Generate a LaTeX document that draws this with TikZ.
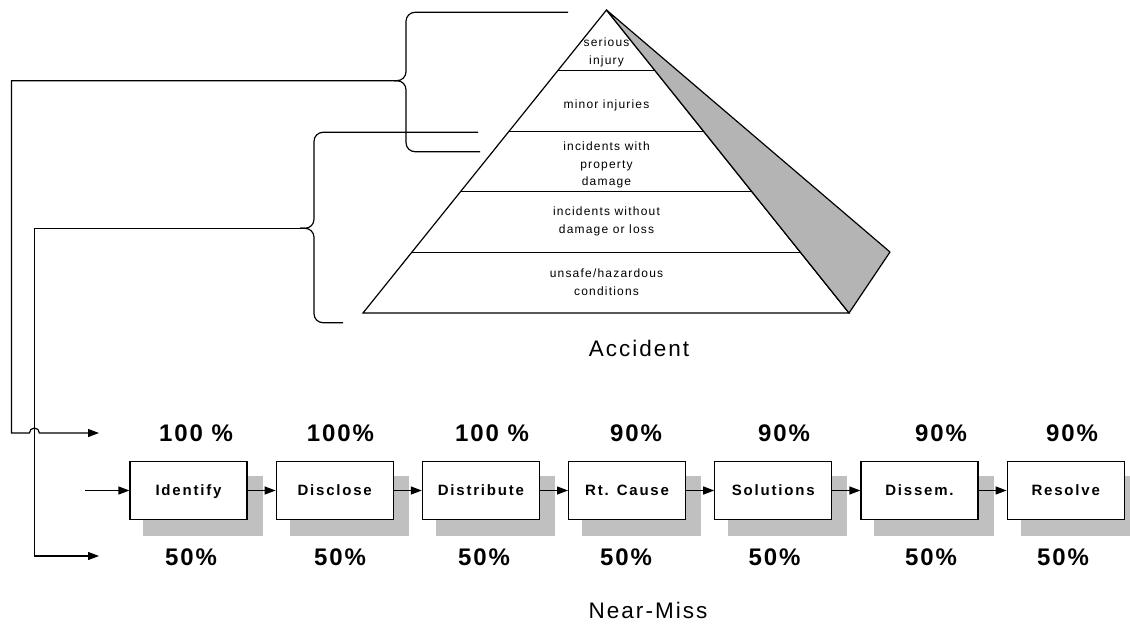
\documentclass[tikz,border=0pt]{standalone}
\usepackage{fontspec}
\setmainfont{Liberation Sans}
\newfontfamily\pyrfont[LetterSpace=10]{Liberation Sans}
\newfontfamily\boxfont[LetterSpace=12]{Liberation Sans}
\newfontfamily\pctfont[LetterSpace=8]{Liberation Sans}
\newfontfamily\capfont[LetterSpace=9]{Liberation Sans}
\usetikzlibrary{arrows.meta,calc}
\pgfdeclarelayer{bg}
\pgfsetlayers{bg,main}
\definecolor{pyrgray}{RGB}{180,180,180}
\definecolor{boxshadow}{RGB}{192,192,192}
\tikzset{
  ln/.style={line width=1.2pt},
  arr/.style={line width=1.2pt,-{Triangle[length=11pt,width=8pt]}},
  brace/.style={line width=1.2pt,rounded corners=9pt},
  stagebox/.style={draw,line width=1.2pt,fill=white,minimum width=117pt,minimum height=57.6pt,inner sep=0pt,
    text height=10.7pt,text depth=0pt,font=\boxfont\fontsize{15}{18}\selectfont\bfseries},
  pct/.style={inner sep=0pt,text height=17.2pt,text depth=0pt,font=\pctfont\fontsize{24}{28}\selectfont\bfseries},
  layer/.style={align=center,inner sep=0pt,font=\pyrfont\fontsize{12}{18}\selectfont},
  caption/.style={inner sep=0pt,font=\capfont\fontsize{22.5}{26}\selectfont},
}
\begin{document}
\begin{tikzpicture}[x=1pt,y=-1pt]
\useasboundingbox (0,0) rectangle (1130,627);

% pyramid
\coordinate (apex) at (606.5,10);
\coordinate (bl) at (363,313);
\coordinate (br) at (849,313);
\coordinate (gt) at (890,252);
\draw[ln,fill=white] (apex) -- (bl) -- (br) -- cycle;
\filldraw[ln,fill=pyrgray,line join=round] (apex) -- (gt) -- (br) -- cycle;
\foreach \t in {0.2,0.4,0.6,0.8}
  \draw[ln] ($(apex)!\t!(bl)$) -- ($(apex)!\t!(br)$);

\node[layer] (l1) at (606.5,52) {serious\\injury};
\node[layer] (l2) at (606.5,105) {minor injuries};
\node[layer,font=\pyrfont\fontsize{12}{17.7}\selectfont] (l3) at (606.5,165) {incidents with\\property\\damage};
\node[layer] (l4) at (606.5,221) {incidents without\\damage or loss};
\node[layer] (l5) at (606.5,282.5) {unsafe/hazardous\\conditions};

\node[caption] (acc) at (639,348) {Accident};
\node[caption] (nm) at (648,610) {Near-Miss};

% braces
\coordinate (ubTop) at (568,12.3);
\coordinate (ubBot) at (480,151.7);
\coordinate (ubTip) at (394,80.7);
\draw[brace] (ubTop) -- (406,12.3) -- (406,80.7) -- (ubTip);
\draw[brace] (ubTip) -- (406,80.7) -- (406,151.7) -- (ubBot);

\coordinate (lbTop) at (478,132.3);
\coordinate (lbBot) at (343,322.7);
\coordinate (lbTip) at (300,228.3);
\draw[brace] (lbTop) -- (314,132.3) -- (314,228.3) -- (lbTip);
\draw[brace] (lbTip) -- (314,228.3) -- (314,322.7) -- (lbBot);

% left feed lines
\coordinate (a100) at (99,433);
\coordinate (a50) at (99,556);
\draw[arr] (ubTip) -- (11.5,80.7) -- (11.5,433) -- (29.4,433)
  arc[start angle=180,end angle=0,radius=5pt] -- (a100);
\draw[arr] (lbTip) -- (34.4,228.3) -- (34.4,556) -- (a50);

% process boxes
\node[stagebox] (b1) at (188.5,490.5) {Identify};
\node[stagebox] (b2) at (334.7,490.5) {Disclose};
\node[stagebox] (b3) at (480.9,490.5) {Distribute};
\node[stagebox] (b4) at (627.1,490.5) {Rt. Cause};
\node[stagebox] (b5) at (773.3,490.5) {Solutions};
\node[stagebox] (b6) at (919.5,490.5) {Dissem.};
\node[stagebox] (b7) at (1065.7,490.5) {Resolve};

\begin{pgfonlayer}{bg}
\foreach \b in {b1,b2,b3,b4,b5,b6,b7}
  \fill[boxshadow] ($(\b.north west)+(14,14.5)$) rectangle ($(\b.south east)+(15,16.5)$);
\end{pgfonlayer}

\coordinate (in) at (85,490.5);
\draw[arr] (in) -- (b1.west);
\draw[arr] (b1.east) -- (b2.west);
\draw[arr] (b2.east) -- (b3.west);
\draw[arr] (b3.east) -- (b4.west);
\draw[arr] (b4.east) -- (b5.west);
\draw[arr] (b5.east) -- (b6.west);
\draw[arr] (b6.east) -- (b7.west);

% percentages
\node[pct] (t1) at (196,433) {100 \%};
\node[pct] (t2) at (340.5,433) {100\%};
\node[pct] (t3) at (492,433) {100 \%};
\node[pct] (t4) at (636,433) {90\%};
\node[pct] (t5) at (784,433) {90\%};
\node[pct] (t6) at (941,433) {90\%};
\node[pct] (t7) at (1072,433) {90\%};

\node[pct] (u1) at (191,557) {50\%};
\node[pct] (u2) at (340,557) {50\%};
\node[pct] (u3) at (484,557) {50\%};
\node[pct] (u4) at (626,557) {50\%};
\node[pct] (u5) at (774.6,557) {50\%};
\node[pct] (u6) at (931,557) {50\%};
\node[pct] (u7) at (1063,557) {50\%};
\end{tikzpicture}
\end{document}
